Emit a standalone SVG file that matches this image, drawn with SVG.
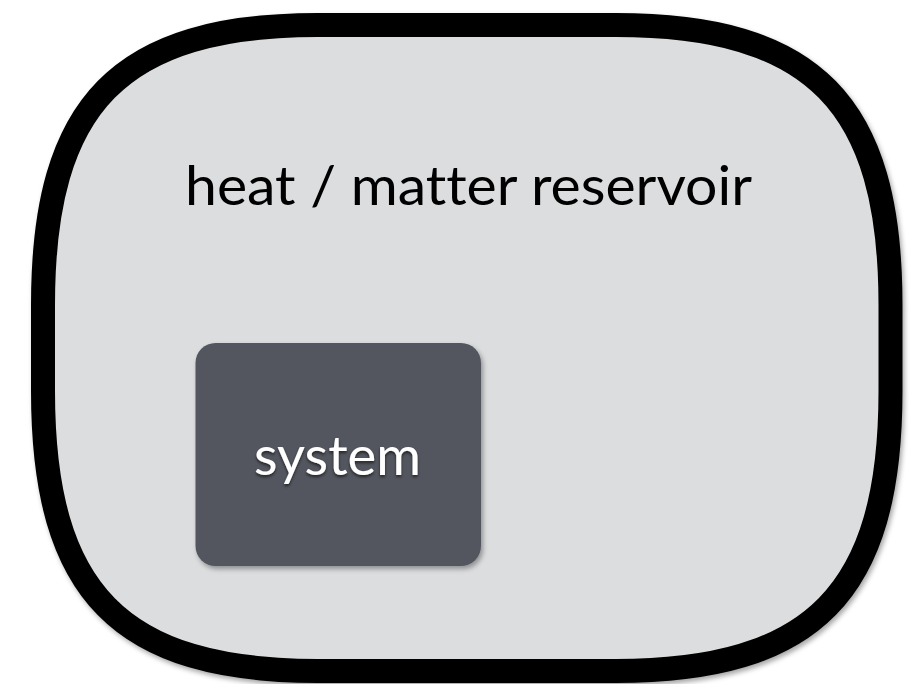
<svg xmlns="http://www.w3.org/2000/svg" width="919" height="684" viewBox="0 0 919 684">
<defs>
<filter id="shadow" x="-10%" y="-10%" width="120%" height="120%">
<feDropShadow dx="2" dy="3" stdDeviation="2.5" flood-color="#000" flood-opacity="0.35"/>
</filter>
<filter id="tshadow" x="-10%" y="-20%" width="120%" height="150%">
<feDropShadow dx="0" dy="2" stdDeviation="1.5" flood-color="#000" flood-opacity="0.6"/>
</filter>
</defs>
<style>
.lbl{font-family:"Lato","Open Sans","Liberation Sans",sans-serif;font-variant-ligatures:none;}
</style>
<rect width="919" height="684" fill="#ffffff"/>
<g id="reservoir">
<path d="M 43 305 C 43 103.4, 120 25, 318 25 L 615.5 25 C 813.5 25, 890.5 103.4, 890.5 305 L 890.5 391 C 890.5 592.6, 813.5 671, 615.5 671 L 318 671 C 120 671, 43 592.6, 43 391 Z" fill="#dcdddf" stroke="#000" stroke-width="24" filter="url(#shadow)"/>
<text class="lbl" x="185" y="205" font-size="54" fill="#000" textLength="567" lengthAdjust="spacingAndGlyphs">heat / matter reservoir</text>
</g>
<g id="system">
<rect x="195.5" y="343" width="285.5" height="223" rx="20" ry="20" fill="#52565e" filter="url(#shadow)"/>
<text class="lbl" x="254" y="475" font-size="54" fill="#ffffff" textLength="167" lengthAdjust="spacingAndGlyphs" filter="url(#tshadow)">system</text>
</g>
<g id="connectors"></g>
</svg>
